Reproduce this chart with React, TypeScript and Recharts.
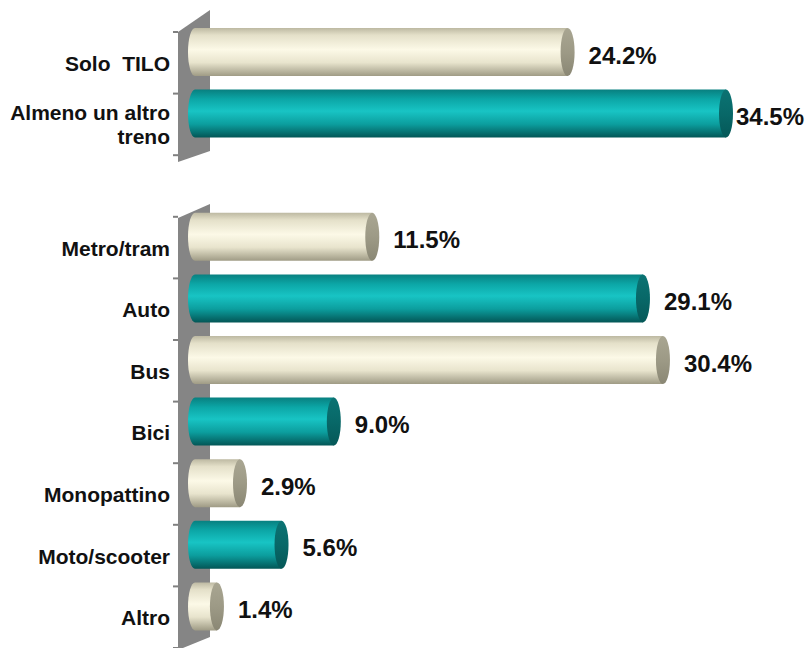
import { BarChart, Bar, XAxis, YAxis, Cell, LabelList } from "recharts";

// spacer row between the two panels has an empty name and a null value
const categories = [
  "Solo  TILO",
  "Almeno un altro\ntreno",
  "",
  "Metro/tram",
  "Auto",
  "Bus",
  "Bici",
  "Monopattino",
  "Moto/scooter",
  "Altro",
];
const values = [24.2, 34.5, null, 11.5, 29.1, 30.4, 9.0, 2.9, 5.6, 1.4];

const data = categories.map((name, i) => ({ name, value: values[i] }));

const W = 812;
const H = 648;
const TOP = 32;
const BAND = (H - TOP) / categories.length;
const FONT = "'Liberation Sans', Arial, sans-serif";

const CylinderBar = (props: any) => {
  const { x, y, width, height, fill, value } = props;
  if (value == null) return null;
  const rx = 7;
  const ry = height / 2;
  const top = y - 11;
  const bottom = top + height;
  const left = x - 14.4;
  const right = x + width;
  const isTeal = fill === "teal";
  return (
    <g>
      <path
        d={`M${left + rx},${top} L${right - rx},${top} L${right - rx},${bottom} L${left + rx},${bottom} A${rx},${ry} 0 0 1 ${left + rx},${top} Z`}
        fill={isTeal ? "url(#tealBody)" : "url(#creamBody)"}
      />
      <ellipse
        cx={right - rx}
        cy={top + ry}
        rx={rx}
        ry={ry}
        fill={isTeal ? "url(#tealCap)" : "url(#creamCap)"}
      />
    </g>
  );
};

const CategoryTick = (props: any) => {
  const { y, payload } = props;
  const lines = String(payload.value).split("\n");
  const start = y - ((lines.length - 1) * 24) / 2;
  return (
    <text
      x={170}
      y={start}
      textAnchor="end"
      dominantBaseline="central"
      fontFamily={FONT}
      fontWeight="bold"
      fontSize={21}
      fill="#111"
      style={{ whiteSpace: "pre" }}
    >
      {lines.map((l, i) => (
        <tspan key={i} x={170} dy={i === 0 ? 0 : 24}>
          {l}
        </tspan>
      ))}
    </text>
  );
};

const ValueLabel = (props: any) => {
  const { x, y, width, height, value } = props;
  if (value == null) return null;
  // keep the longest bar's label inside the picture
  const lx = Math.min(x + width + 14, W - 76);
  return (
    <text
      x={lx}
      y={y + height / 2 - 8}
      dominantBaseline="central"
      fontFamily={FONT}
      fontWeight="bold"
      fontSize={24}
      fill="#111"
    >
      {`${Number(value).toFixed(1)}%`}
    </text>
  );
};

const Walls = () => {
  const ticksTop = [0, 1, 2].map((k) => TOP + BAND * k);
  const ticksBottom = [3, 4, 5, 6, 7, 8, 9, 10].map((k) => TOP + BAND * k);
  return (
    <svg width={W} height={H} style={{ position: "absolute", left: 0, top: 0 }}>
      <polygon points="178,32 210,10 210,151 178,162" fill="#858585" />
      <polygon points="178,218 210,204 210,637 178,650" fill="#858585" />
      {[...ticksTop, ...ticksBottom].map((t, i) => (
        <line key={i} x1={173} x2={178} y1={t} y2={t} stroke="#808080" strokeWidth={2} />
      ))}
    </svg>
  );
};

export default function App() {
  return (
    <div style={{ position: "absolute", left: 0, top: 0, width: W, height: H, background: "#fff" }}>
      <Walls />
      <div style={{ position: "absolute", left: 0, top: 0 }}>
        <BarChart
          width={W}
          height={H}
          data={data}
          layout="vertical"
          margin={{ top: TOP, right: 71.3, bottom: 0, left: 0 }}
          barSize={48}
        >
          <defs>
            <linearGradient id="creamBody" x1="0" y1="0" x2="0" y2="1">
              <stop offset="0%" stopColor="#bdb9a2" />
              <stop offset="15%" stopColor="#e4e0c9" />
              <stop offset="45%" stopColor="#fcf9e7" />
              <stop offset="72%" stopColor="#e8e4cd" />
              <stop offset="100%" stopColor="#9f9b85" />
            </linearGradient>
            <linearGradient id="creamCap" x1="0" y1="0" x2="0" y2="1">
              <stop offset="0%" stopColor="#a9a692" />
              <stop offset="50%" stopColor="#9d9a86" />
              <stop offset="100%" stopColor="#8a8774" />
            </linearGradient>
            <linearGradient id="tealBody" x1="0" y1="0" x2="0" y2="1">
              <stop offset="0%" stopColor="#088080" />
              <stop offset="20%" stopColor="#0ca6a6" />
              <stop offset="45%" stopColor="#18c4c4" />
              <stop offset="72%" stopColor="#0c9e9e" />
              <stop offset="100%" stopColor="#035656" />
            </linearGradient>
            <linearGradient id="tealCap" x1="0" y1="0" x2="0" y2="1">
              <stop offset="0%" stopColor="#0b7373" />
              <stop offset="50%" stopColor="#086868" />
              <stop offset="100%" stopColor="#055858" />
            </linearGradient>
          </defs>
          <XAxis type="number" domain={[0, 35]} hide />
          <YAxis
            type="category"
            dataKey="name"
            width={202.4}
            axisLine={false}
            tickLine={false}
            interval={0}
            tick={<CategoryTick />}
          />
          <Bar dataKey="value" shape={<CylinderBar />} isAnimationActive={false}>
            {data.map((entry, index) => (
              <Cell
                key={`cell-${index}`}
                fill={(index < 2 ? index : index - 3) % 2 === 0 ? "cream" : "teal"}
              />
            ))}
            <LabelList dataKey="value" content={<ValueLabel />} />
          </Bar>
        </BarChart>
      </div>
    </div>
  );
}
